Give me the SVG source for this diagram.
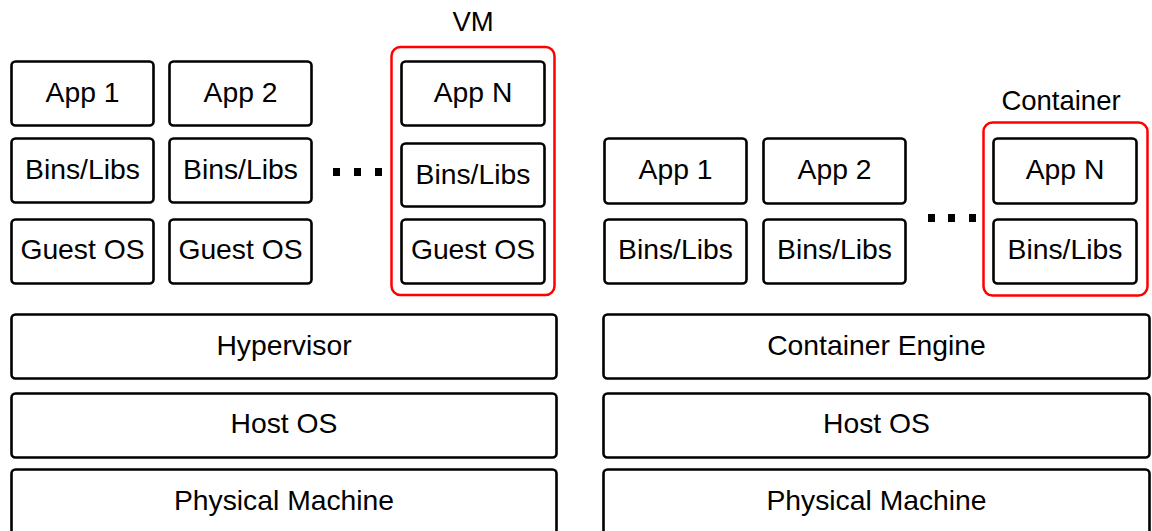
<svg xmlns="http://www.w3.org/2000/svg" width="1152" height="531" viewBox="0 0 1152 531">
  <style>
    .box { fill: #ffffff; stroke: #000000; stroke-width: 2.6; }
    .group { fill: none; stroke: #ff0000; stroke-width: 2.5; }
    .t { font-family: "Liberation Sans", Arial, Helvetica, sans-serif; font-size: 28.3px; fill: #000000; text-anchor: middle; }
    .lbl { font-family: "Liberation Sans", Arial, Helvetica, sans-serif; font-size: 27.5px; fill: #000000; text-anchor: middle; }
    .dot { fill: #000000; }
  </style>
  <rect x="0" y="0" width="1152" height="531" fill="#ffffff"/>

  <!-- Virtual machine stack -->
  <g id="vm-app1"><rect class="box" x="11.5" y="61.5" width="142" height="64" rx="4"/><text class="t" x="82.5" y="102">App 1</text></g>
  <g id="vm-app2"><rect class="box" x="169.5" y="61.5" width="142" height="64" rx="4"/><text class="t" x="240.5" y="102">App 2</text></g>
  <g id="vm-bins1"><rect class="box" x="11.5" y="138.5" width="142" height="64" rx="4"/><text class="t" x="82.5" y="179">Bins/Libs</text></g>
  <g id="vm-bins2"><rect class="box" x="169.5" y="138.5" width="142" height="64" rx="4"/><text class="t" x="240.5" y="179">Bins/Libs</text></g>
  <g id="vm-guest1"><rect class="box" x="11.5" y="219.5" width="142" height="64" rx="4"/><text class="t" x="82.5" y="259">Guest OS</text></g>
  <g id="vm-guest2"><rect class="box" x="169.5" y="219.5" width="142" height="64" rx="4"/><text class="t" x="240.5" y="259">Guest OS</text></g>

  <g id="vm-ellipsis">
    <rect class="dot" x="333" y="168" width="7" height="8"/>
    <rect class="dot" x="354" y="168" width="7" height="8"/>
    <rect class="dot" x="375" y="168" width="7" height="8"/>
  </g>

  <g id="vm-n">
    <text class="lbl" x="473" y="31">VM</text>
    <rect class="group" x="391.5" y="47" width="163" height="248" rx="9"/>
    <g id="vm-appn"><rect class="box" x="401.5" y="61.5" width="143" height="64" rx="4"/><text class="t" x="473" y="102">App N</text></g>
    <g id="vm-binsn"><rect class="box" x="401.5" y="143.5" width="143" height="63" rx="4"/><text class="t" x="473" y="184">Bins/Libs</text></g>
    <g id="vm-guestn"><rect class="box" x="401.5" y="219.5" width="143" height="64" rx="4"/><text class="t" x="473" y="259">Guest OS</text></g>
  </g>

  <g id="hypervisor"><rect class="box" x="11.5" y="314.5" width="545" height="64" rx="4"/><text class="t" x="284" y="355">Hypervisor</text></g>
  <g id="vm-host-os"><rect class="box" x="11.5" y="393.5" width="545" height="64" rx="4"/><text class="t" x="284" y="433">Host OS</text></g>
  <g id="vm-physical"><rect class="box" x="11.5" y="469.5" width="545" height="72" rx="4"/><text class="t" x="284" y="510">Physical Machine</text></g>

  <!-- Container stack -->
  <g id="ct-app1"><rect class="box" x="604.5" y="138.5" width="142" height="65" rx="4"/><text class="t" x="675.5" y="179">App 1</text></g>
  <g id="ct-app2"><rect class="box" x="763.5" y="138.5" width="142" height="65" rx="4"/><text class="t" x="834.5" y="179">App 2</text></g>
  <g id="ct-bins1"><rect class="box" x="604.5" y="219.5" width="142" height="64" rx="4"/><text class="t" x="675.5" y="259">Bins/Libs</text></g>
  <g id="ct-bins2"><rect class="box" x="763.5" y="219.5" width="142" height="64" rx="4"/><text class="t" x="834.5" y="259">Bins/Libs</text></g>

  <g id="ct-ellipsis">
    <rect class="dot" x="928" y="214" width="7" height="8"/>
    <rect class="dot" x="948" y="214" width="7" height="8"/>
    <rect class="dot" x="969" y="214" width="7" height="8"/>
  </g>

  <g id="ct-n">
    <text class="lbl" x="1061" y="110">Container</text>
    <rect class="group" x="983.5" y="122.5" width="164" height="173" rx="9"/>
    <g id="ct-appn"><rect class="box" x="993.5" y="138.5" width="143" height="65" rx="4"/><text class="t" x="1065" y="179">App N</text></g>
    <g id="ct-binsn"><rect class="box" x="993.5" y="219.5" width="143" height="64" rx="4"/><text class="t" x="1065" y="259">Bins/Libs</text></g>
  </g>

  <g id="container-engine"><rect class="box" x="603.5" y="314.5" width="546" height="64" rx="4"/><text class="t" x="876.5" y="355">Container Engine</text></g>
  <g id="ct-host-os"><rect class="box" x="603.5" y="393.5" width="546" height="64" rx="4"/><text class="t" x="876.5" y="433">Host OS</text></g>
  <g id="ct-physical"><rect class="box" x="603.5" y="469.5" width="546" height="72" rx="4"/><text class="t" x="876.5" y="510">Physical Machine</text></g>

  <!-- no connectors: layers are stacked by position -->
  <g id="connectors"/>
</svg>
